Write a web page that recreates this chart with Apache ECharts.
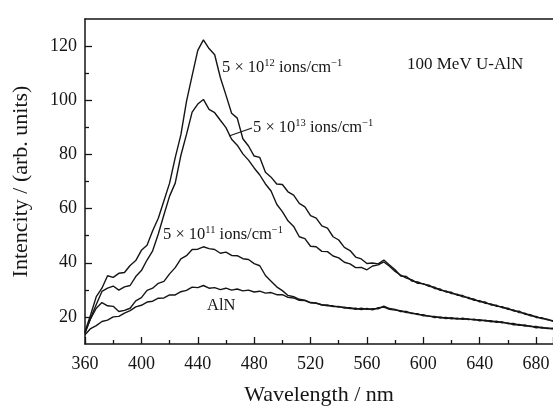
<!DOCTYPE html>
<html>
<head>
<meta charset="UTF-8">
<title>PL spectra U-AlN</title>
<script src="https://cdn.jsdelivr.net/npm/echarts@6/dist/echarts.min.js"></script>
<style>
html, body { margin: 0; padding: 0; background: #fff; }
#main { width: 553px; height: 406px; }
</style>
</head>
<body>
<div id="main"></div>
<script>
// wavelength (nm)
var wl = [360,364,368,372,376,380,384,388,392,396,400,404,408,412,416,420,424,428,432,436,
          440,444,448,452,456,460,464,468,472,476,480,484,488,492,496,500,504,508,512,516,
          520,524,528,532,536,540,544,548,552,556,560,564,568,572,576,580,584,588,592,596,
          600,604,608,612,616,620,624,628,632,636,640,644,648,652,656,660,664,668,672,676,
          680,684,688,692];

// 5x10^12 ions/cm
var s12 = [14.5,20.8,27.5,30.6,35.2,34.6,36.1,36.4,39.0,40.8,44.6,46.5,51.8,56.4,62.9,69.4,78.8,87.2,99.6,109.1,
           118.4,122.3,119.1,116.8,108.4,101.9,95.2,93.4,85.8,83.1,79.4,78.9,73.4,71.6,69.1,68.9,66.2,65.0,61.9,60.6,
           57.4,56.5,53.6,52.8,49.6,48.4,45.7,44.5,42.1,41.4,39.7,39.9,39.6,41.0,39.2,37.4,35.1,34.9,33.2,32.9,
           32.1,31.7,30.5,30.3,29.2,29.1,28.0,27.9,26.8,26.6,25.6,25.5,24.4,24.3,23.4,23.2,22.2,22.1,21.0,20.8,
           19.8,19.7,18.9,18.6];

// 5x10^13 ions/cm
var s13 = [14.0,19.6,24.6,29.4,30.6,31.4,29.9,31.1,31.6,34.9,37.1,41.0,44.4,50.6,57.7,64.6,69.4,79.6,87.4,95.6,
           98.6,100.3,96.6,95.4,92.6,89.9,85.6,83.4,80.2,77.9,75.0,72.4,69.1,66.5,61.6,58.9,55.5,53.4,49.6,48.9,
           46.1,45.9,44.2,44.1,42.5,41.8,40.2,39.6,38.2,38.3,37.4,38.8,39.2,40.3,38.7,36.8,35.4,34.3,33.7,32.4,
           32.3,31.3,31.0,29.8,29.6,28.6,28.4,27.4,27.2,26.1,26.0,25.0,24.8,23.9,23.8,22.8,22.6,21.6,21.4,20.4,
           20.2,19.4,19.2,18.4];

// 5x10^11 ions/cm
var s11 = [14.3,19.4,23.2,25.3,24.1,23.9,22.0,22.4,23.2,25.9,27.1,29.8,30.6,32.4,33.1,35.9,38.2,41.4,42.6,44.9,
           45.0,45.9,45.2,44.9,43.5,43.9,42.7,42.6,41.5,41.2,39.7,38.9,35.3,33.2,31.1,29.7,27.9,27.5,26.5,26.2,
           25.3,25.2,24.4,24.4,23.8,23.9,23.3,23.4,22.8,23.2,22.8,23.0,23.0,24.0,23.1,22.8,22.0,22.0,21.2,21.2,
           20.4,20.4,19.8,20.0,19.4,19.7,19.2,19.5,19.0,19.2,18.6,18.8,18.2,18.4,17.8,17.8,17.1,17.2,16.6,16.7,
           16.0,16.2,15.7,15.8];

// unirradiated AlN
var aln = [13.4,15.7,16.8,18.3,18.8,20.0,20.2,21.4,22.3,23.7,24.3,25.5,25.8,26.9,27.0,28.1,28.1,29.3,29.8,31.0,
           30.8,31.6,30.6,30.8,30.1,30.6,29.9,30.3,29.6,29.9,29.2,29.5,28.8,29.0,28.2,28.2,27.2,27.0,26.1,26.0,
           25.2,25.0,24.5,24.1,24.1,23.6,23.6,23.1,23.2,22.7,23.1,22.6,23.4,23.6,22.8,22.5,22.3,21.6,21.5,20.9,
           20.8,20.2,20.2,19.6,19.8,19.3,19.5,19.1,19.3,18.8,19.0,18.5,18.6,18.0,18.2,17.5,17.6,16.9,17.0,16.4,
           16.5,15.9,15.9,15.5];

var yMajor = [20, 40, 60, 80, 100, 120];
var yMinor = [30, 50, 70, 90, 110];

var FONT = '"Liberation Serif", "Times New Roman", serif';
var INK = '#151515';

function pairs(ys) {
    var out = [];
    for (var i = 0; i < wl.length; i++) out.push([wl[i], ys[i]]);
    return out;
}

function spectrum(name, ys) {
    return {
        name: name,
        type: 'line',
        xAxisIndex: 0,
        yAxisIndex: 0,
        showSymbol: false,
        animation: false,
        lineStyle: { color: INK, width: 1.4 },
        data: pairs(ys)
    };
}

var rich = {
    n: { fontFamily: FONT, fontSize: 16.5, color: INK, lineHeight: 20 },
    s: { fontFamily: FONT, fontSize: 10.5, color: INK, lineHeight: 10, verticalAlign: 'top' }
};

function note(x, y, txt) {
    return {
        type: 'text',
        left: x,
        top: y,
        style: { text: txt, rich: rich, fill: INK }
    };
}

var chart = echarts.init(document.getElementById('main'), null, { renderer: 'canvas' });

chart.setOption({
    animation: false,
    backgroundColor: '#fff',
    grid: { left: 85, right: 0, top: 19, bottom: 62, outerBoundsMode: 'none', containLabel: false },
    xAxis: [{
        type: 'value',
        position: 'bottom',
        min: 360,
        max: 692,
        interval: 40,
        name: 'Wavelength / nm',
        nameLocation: 'middle',
        nameGap: 40,
        nameTextStyle: { fontFamily: FONT, fontSize: 22, color: INK },
        axisLine: { lineStyle: { color: INK, width: 1.5 } },
        axisTick: { inside: true, length: 7, lineStyle: { color: INK, width: 1.3 } },
        minorTick: { show: true, splitNumber: 2, length: 4, lineStyle: { color: INK, width: 1.3 } },
        axisLabel: { fontFamily: FONT, fontSize: 18, color: INK, margin: 11, showMaxLabel: false },
        splitLine: { show: false }
    }, {
        type: 'value',
        position: 'top',
        min: 360,
        max: 692,
        axisLine: { lineStyle: { color: INK, width: 1.5 } },
        axisTick: { show: false },
        axisLabel: { show: false },
        splitLine: { show: false }
    }],
    yAxis: [{
        type: 'value',
        min: 10,
        max: 130,
        name: 'Intencity / (arb. units)',
        nameLocation: 'middle',
        nameGap: 53,
        nameTextStyle: { fontFamily: FONT, fontSize: 22, color: INK },
        axisLine: { show: true, lineStyle: { color: INK, width: 1.5 } },
        axisTick: { show: true, inside: true, length: 7, customValues: yMajor, lineStyle: { color: INK, width: 1.3 } },
        axisLabel: { fontFamily: FONT, fontSize: 18, color: INK, margin: 8, customValues: yMajor },
        splitLine: { show: false }
    }, {
        type: 'value',
        position: 'left',
        min: 10,
        max: 130,
        axisLine: { show: false },
        axisTick: { show: true, inside: true, length: 4, customValues: yMinor, lineStyle: { color: INK, width: 1.3 } },
        axisLabel: { show: false },
        splitLine: { show: false }
    }],
    series: [
        spectrum('5e12', s12),
        spectrum('5e13', s13),
        spectrum('5e11', s11),
        spectrum('AlN', aln)
    ],
    graphic: [
        note(222, 58, '{n|5 × 10}{s|12}{n| ions/cm}{s|−1}'),
        note(253, 118, '{n|5 × 10}{s|13}{n| ions/cm}{s|−1}'),
        note(163, 225, '{n|5 × 10}{s|11}{n| ions/cm}{s|−1}'),
        {
            type: 'text', left: 207, top: 297,
            style: { text: 'AlN', font: '16.5px ' + FONT, fill: INK }
        },
        {
            type: 'text', left: 407, top: 56,
            style: { text: '100 MeV U-AlN', font: '17px ' + FONT, fill: INK }
        },
        {
            type: 'line',
            shape: { x1: 229, y1: 136, x2: 252, y2: 128 },
            style: { stroke: INK, lineWidth: 1.2 }
        }
    ]
});
</script>
</body>
</html>
